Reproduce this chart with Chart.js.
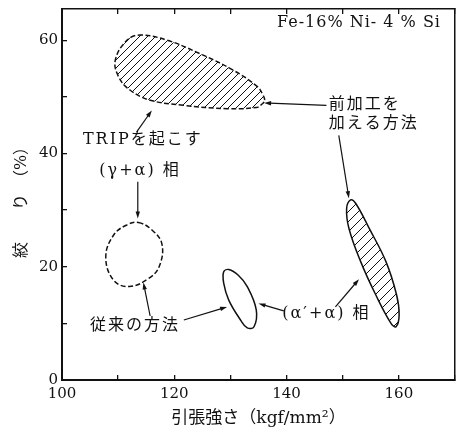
<!DOCTYPE html>
<html><head><meta charset="utf-8">
<script src="https://cdn.jsdelivr.net/npm/chart.js@4"></script>
<style>html,body{margin:0;padding:0;background:#fff;}canvas{display:block;}</style>
</head><body>
<canvas id="c" width="457" height="429"></canvas>
<script>
// ---------- data (x: 引張強さ kgf/mm², y: 絞り %) ----------
const xTickLabels = [100, 120, 140, 160];
const yTickLabels = [0, 20, 40, 60];

// 前加工を加える方法 — TRIP を起こす (γ+α) 相 (hatched, dashed outline)
const preTripX = [136.1, 135.7, 134.8, 130.5, 124.6, 118.7, 113.9, 111.6, 109.5, 110.1, 112.1, 115.7, 121.6, 129.4, 134.6, 135.5];
const preTripY = [49.4, 50.5, 51.8, 54.7, 57.6, 60.0, 60.9, 60.0, 56.5, 53.5, 51.2, 49.4, 48.5, 47.9, 48.1, 48.6];

// 従来の方法 — TRIP を起こす (γ+α) 相 (dashed outline)
const convTripX = [113.6, 115.9, 117.8, 117.3, 115.4, 112.0, 109.2, 107.8, 109.2, 111.6];
const convTripY = [27.8, 26.6, 24.0, 20.0, 17.9, 16.5, 17.6, 21.7, 25.6, 27.4];

// 従来の方法 — (α′+α) 相 (solid outline)
const convAlphaX = [129.7, 131.4, 133.0, 134.6, 134.2, 133.0, 131.8, 129.7, 128.8, 128.8];
const convAlphaY = [19.5, 18.5, 16.5, 12.4, 9.4, 9.2, 10.6, 14.1, 17.1, 19.1];

// 前加工を加える方法 — (α′+α) 相 (hatched, solid outline)
const preAlphaX = [151.4, 152.3, 154.7, 157.7, 159.6, 160.05, 159.5, 158.6, 155.9, 153.2, 151.1, 150.7];
const preAlphaY = [31.8, 31.2, 26.8, 20.9, 15.0, 11.5, 9.4, 10.0, 15.0, 20.9, 26.8, 30.3];

// ---------- annotations (text + leader arrows, in data units) ----------
const noteTexts = ['Fe-16% Ni- 4 % Si', '前加工を', '加える方法', 'TRIPを起こす', '(γ+α) 相', '従来の方法', '(α′+α) 相'];
const notePlace = [
  {x: 152.9, y: 63.0, align: 'center'},
  {x: 147.5, y: 48.6, align: 'left'},
  {x: 147.5, y: 45.3, align: 'left'},
  {x: 114.4, y: 42.35, align: 'center'},
  {x: 113.9, y: 37.0, align: 'center'},
  {x: 113.0, y: 9.6, align: 'center'},
  {x: 147.1, y: 11.6, align: 'center'}
];
const arrowFromX = [113.3, 113.5, 147.1, 149.3, 115.7, 121.7, 139.5, 148.7];
const arrowFromY = [43.8, 35.0, 48.5, 43.2, 11.3, 10.6, 12.2, 12.9];
const arrowToX   = [116.0, 113.5, 136.0, 151.1, 114.5, 129.4, 135.0, 152.9];
const arrowToY   = [47.6, 28.5, 48.9, 32.1, 17.2, 12.9, 13.5, 17.8];

// ---------- helpers ----------
const zip = (xs, ys) => xs.map((x, i) => ({x, y: ys[i]}));
function hatch(size) {
  const c = document.createElement('canvas');
  c.width = size; c.height = size;
  const g = c.getContext('2d');
  g.strokeStyle = '#111'; g.lineWidth = 1;
  g.beginPath();
  g.moveTo(0, size); g.lineTo(size, 0);
  g.moveTo(-size / 2, size / 2); g.lineTo(size / 2, -size / 2);
  g.moveTo(size / 2, size * 1.5); g.lineTo(size * 1.5, size / 2);
  g.stroke();
  return g.createPattern(c, 'repeat');
}
const SERIF = '"DejaVu Serif", "Noto Sans CJK JP"';

const loopPlugin = {
  id: 'closedShapes',
  afterDatasetUpdate(chart, args) {
    const line = args.meta.dataset;
    if (line) {
      line._loop = true; line._fullLoop = true;
      line._segments = undefined; line._path = undefined; line._pointsUpdated = false;
    }
  }
};

const notesPlugin = {
  id: 'notes',
  afterDraw(chart) {
    const {ctx, scales: {x, y}} = chart;
    ctx.save();
    ctx.fillStyle = '#111'; ctx.strokeStyle = '#111';
    ctx.textBaseline = 'middle';
    noteTexts.forEach((t, i) => {
      const p = notePlace[i];
      ctx.font = i === 0 ? '16px "DejaVu Serif"' : '16px ' + SERIF;
      ctx.letterSpacing = i === 0 ? '1px' : '2px';
      ctx.textAlign = p.align;
      ctx.fillText(t, x.getPixelForValue(p.x), y.getPixelForValue(p.y));
    });
    ctx.letterSpacing = '0px';
    ctx.lineWidth = 1.2;
    arrowFromX.forEach((fx, i) => {
      const x1 = x.getPixelForValue(fx), y1 = y.getPixelForValue(arrowFromY[i]);
      const x2 = x.getPixelForValue(arrowToX[i]), y2 = y.getPixelForValue(arrowToY[i]);
      const a = Math.atan2(y2 - y1, x2 - x1);
      ctx.beginPath(); ctx.moveTo(x1, y1); ctx.lineTo(x2 - 5 * Math.cos(a), y2 - 5 * Math.sin(a)); ctx.stroke();
      ctx.beginPath();
      ctx.moveTo(x2, y2);
      ctx.lineTo(x2 - 7 * Math.cos(a) + 2.2 * Math.sin(a), y2 - 7 * Math.sin(a) - 2.2 * Math.cos(a));
      ctx.lineTo(x2 - 7 * Math.cos(a) - 2.2 * Math.sin(a), y2 - 7 * Math.sin(a) + 2.2 * Math.cos(a));
      ctx.closePath(); ctx.fill();
    });
    ctx.restore();
  }
};

const noPad = s => { s.paddingLeft = 0; s.paddingRight = 0; s.paddingTop = 0; s.paddingBottom = 0; };
const shapeBase = {pointRadius: 0, tension: 0.4, spanGaps: true, borderColor: '#111', borderWidth: 1.5};

new Chart(document.getElementById('c'), {
  type: 'line',
  data: {
    datasets: [
      {...shapeBase, label: '前加工 (γ+α)', data: zip(preTripX, preTripY), fill: 'shape', backgroundColor: hatch(8), borderDash: [5, 2.5]},
      {...shapeBase, label: '従来 (γ+α)', data: zip(convTripX, convTripY), fill: false, backgroundColor: 'transparent', borderDash: [5, 2.5]},
      {...shapeBase, label: '従来 (α′+α)', data: zip(convAlphaX, convAlphaY), fill: false, backgroundColor: 'transparent'},
      {...shapeBase, label: '前加工 (α′+α)', data: zip(preAlphaX, preAlphaY), fill: 'shape', backgroundColor: hatch(10)}
    ]
  },
  options: {
    responsive: false,
    animation: false,
    layout: {padding: {top: 9, right: 2, left: 0, bottom: 0}},
    plugins: {legend: {display: false}, tooltip: {enabled: false}},
    scales: {
      x: {
        type: 'linear', position: 'bottom', min: 100, max: 170,
        afterFit: s => { s.height = 49; noPad(s); },
        border: {display: true, color: '#111', width: 2},
        grid: {drawOnChartArea: false, drawTicks: true, tickLength: -5, color: '#111', lineWidth: 1.3},
        ticks: {stepSize: 10, padding: 10, maxRotation: 0, autoSkip: false, color: '#111',
          font: {family: '"DejaVu Serif"', size: 15},
          callback: v => xTickLabels.includes(v) ? String(v) : ''},
        title: {display: true, text: '引張強さ（kgf/mm²）', color: '#111', font: {family: SERIF, size: 17}, padding: {top: 0, bottom: 0}}
      },
      x2: {
        type: 'linear', position: 'top', min: 100, max: 170,
        afterFit: s => { s.height = 0; noPad(s); },
        border: {display: true, color: '#111', width: 1.5},
        grid: {drawOnChartArea: false, drawTicks: true, tickLength: -5, color: '#111', lineWidth: 1.3},
        ticks: {display: false, stepSize: 10}
      },
      y: {
        type: 'linear', position: 'left', min: 0, max: 65.5,
        afterFit: s => { s.width = 62; noPad(s); },
        border: {display: true, color: '#111', width: 2},
        grid: {drawOnChartArea: false, drawTicks: true, tickLength: -5, color: '#111', lineWidth: 1.3},
        ticks: {stepSize: 10, includeBounds: false, padding: 9, color: '#111',
          font: {family: '"DejaVu Serif"', size: 15},
          callback: v => yTickLabels.includes(v) ? String(v) : ''},
        title: {display: true, text: '絞　　り　（%）　', color: '#111', font: {family: SERIF, size: 16}, padding: {top: 12, bottom: 0}}
      },
      y2: {
        type: 'linear', position: 'right', min: 0, max: 65.5,
        afterFit: s => { s.width = 0; noPad(s); },
        border: {display: true, color: '#111', width: 1.5},
        grid: {drawOnChartArea: false, drawTicks: false},
        ticks: {display: false, stepSize: 10, includeBounds: false}
      }
    }
  },
  plugins: [loopPlugin, notesPlugin]
});
</script>
</body></html>
